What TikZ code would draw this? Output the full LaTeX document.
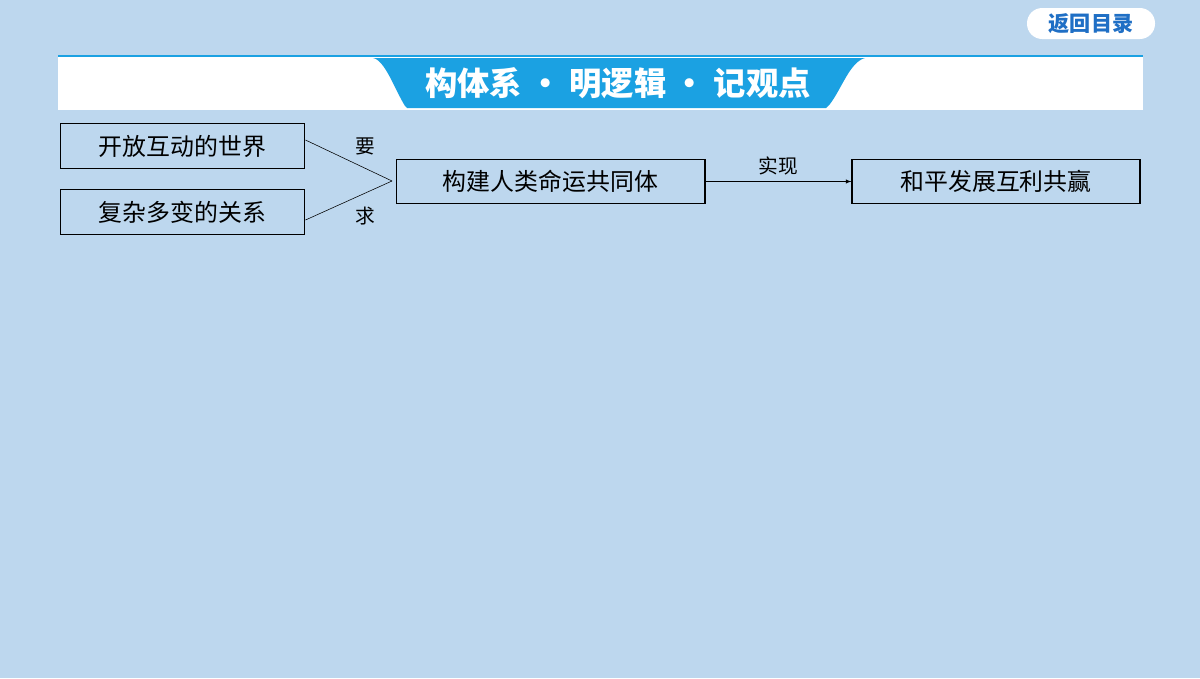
\documentclass[tikz,border=0pt]{standalone}
\usepackage{fontspec}
\newfontfamily\cjk{Noto Sans CJK SC}
\usetikzlibrary{positioning}
\definecolor{bgblue}{HTML}{BDD7EE}
\definecolor{bandblue}{HTML}{1BA1E2}
\definecolor{btnblue}{HTML}{1F6FC5}
\tikzset{
  topicbox/.style={draw=black,thick,fill=none,minimum height=1.12cm,font=\cjk\fontsize{17}{17}\selectfont,inner sep=0pt},
  linklabel/.style={font=\cjk\fontsize{14}{14}\selectfont,inner sep=0pt}
}
\begin{document}
\begin{tikzpicture}[x=0.025cm,y=-0.025cm]
\fill[bgblue] (0,0) rectangle (1200,678);
\useasboundingbox (0,0) rectangle (1200,678);
% return button
\fill[white,rounded corners=0.38cm] (1027,8) rectangle (1155,39);
\node[text=btnblue,font=\cjk\bfseries\fontsize{15}{15}\selectfont] (back) at (1091,24) {返回目录};
% header band
\fill[white] (58,56) rectangle (1143,110);
\draw[bandblue,line width=1.5pt] (58,56) -- (1143,56);
\fill[bandblue] (373,58) .. controls (385,60) and (395,90) .. (405,106) -- (407,108) -- (826,108) -- (830,104) .. controls (842,88) and (850,62) .. (865,58) -- cycle;
\node[text=white,font=\cjk\bfseries\fontsize{23}{23}\selectfont] (title) at (618,83) {构体系 · 明逻辑 · 记观点};
% boxes
\node[topicbox,minimum width=6.12cm] (world) at (182.5,146) {开放互动的世界};
\node[topicbox,minimum width=6.12cm] (rel) at (182.5,212) {复杂多变的关系};
\node[topicbox,minimum width=7.72cm] (comm) at (550.5,181.5) {构建人类命运共同体};
\node[topicbox,minimum width=7.2cm] (peace) at (996,181.5) {和平发展互利共赢};
\coordinate (tip) at (392,181);
\draw (world.east) ++(0,-6) coordinate (w1) -- (tip);
\draw (rel.east) ++(0,8) coordinate (r1) -- (tip);
\node[linklabel] (yao) at (365,146) {要};
\node[linklabel] (qiu) at (365,216) {求};
\draw[-latex] (comm) -- (peace);
\node[linklabel] (shix) at (778,166) {实现};
\end{tikzpicture}
\end{document}
